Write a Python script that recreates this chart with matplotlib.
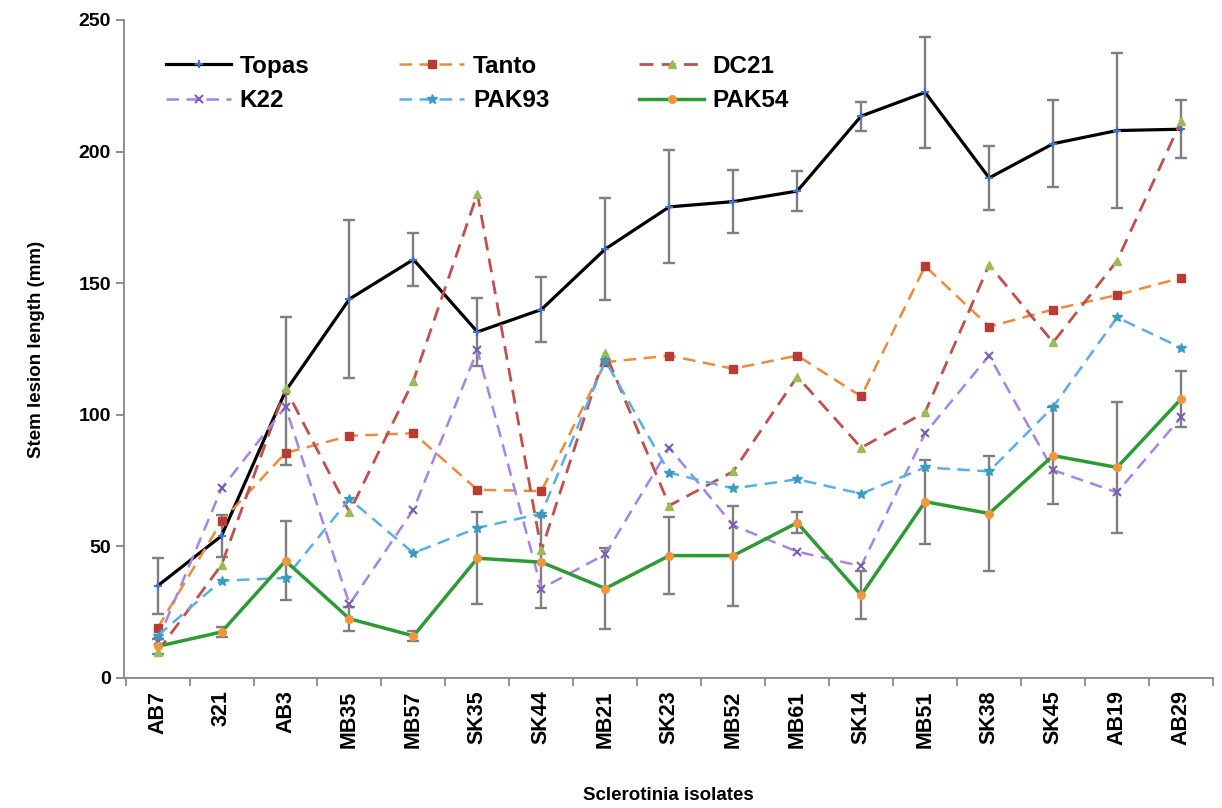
'''
stem lesion length of sclerotinia isolates on six hosts
'''

import matplotlib
matplotlib.use('Agg')
import matplotlib.pyplot as plt

plt.rcParams['font.family'] = ['Liberation Sans', 'DejaVu Sans']
plt.rcParams['font.weight'] = 'bold'

ISOLATES = ['AB7', '321', 'AB3', 'MB35', 'MB57', 'SK35', 'SK44', 'MB21', 'SK23',
            'MB52', 'MB61', 'SK14', 'MB51', 'SK38', 'SK45', 'AB19', 'AB29']

TOPAS = [35, 54, 109, 144, 159, 131.5, 140, 163, 179, 181, 185, 213.5, 222.5,
         190, 203, 208, 208.5]
TOPAS_ERR = [10.5, 8, 28, 30, 10, 13, 12.5, 19.5, 21.5, 12, 7.5, 5.5, 21, 12,
             16.5, 29.5, 11]
TANTO = [19, 59.5, 85.5, 92, 93, 71.5, 71, 120, 122.5, 117.5, 122.5, 107, 156.5,
         133.5, 140, 145.5, 152]
DC21 = [10, 43, 110, 63, 113, 184, 48.5, 123.5, 65.5, 78.5, 114.5, 87.5, 101,
        157, 127.5, 158.5, 211.5]
K22 = [14, 72, 103, 28, 64, 124.5, 34, 47, 87.5, 58, 48, 42.5, 93, 122.5, 79,
       70.5, 99]
PAK93 = [16, 37, 38, 68, 47.5, 57, 62.5, 120.5, 78, 72, 75.5, 70, 80, 78.5, 103,
         137, 125.5]
PAK54 = [12, 17.5, 44.5, 22.5, 16, 45.5, 44, 34, 46.5, 46.5, 59, 31.5, 67, 62.5,
         84.5, 80, 106]
PAK54_ERR = [3, 2, 15, 4.5, 2, 17.5, 17.5, 15.5, 14.5, 19, 4, 9, 16, 22, 18.5,
             25, 10.5]

x = list(range(len(ISOLATES)))

fig = plt.figure(figsize=(12.22, 8.08), dpi=100)
ax = fig.add_axes([124 / 1222, 1 - 678 / 808, (1213 - 124) / 1222, 658 / 808])

# error bars first so the lines sit on top
err_style = dict(fmt='none', ecolor='#7f7f7f', elinewidth=1.7, capsize=4.5,
                 capthick=1.7, zorder=1)
ax.errorbar(x, TOPAS, yerr=TOPAS_ERR, **err_style)
ax.errorbar(x, PAK54, yerr=PAK54_ERR, **err_style)

dash = (5, 3)
h_topas, = ax.plot(x, TOPAS, color='black', lw=2.3, marker='+', ms=6,
                   mec='#4472C4', mew=1.5, label='Topas', zorder=3)
h_tanto, = ax.plot(x, TANTO, color='#EE8A3A', lw=1.8, dashes=dash, marker='s',
                   ms=5.5, mfc='#B83C33', mec='#B83C33', label='Tanto', zorder=3)
h_dc21, = ax.plot(x, DC21, color='#C0504D', lw=2.0, dashes=dash, marker='^',
                  ms=5.5, mfc='#9BBB59', mec='#9BBB59', label='DC21', zorder=3)
h_k22, = ax.plot(x, K22, color='#A584E4', lw=1.8, dashes=dash, marker='x',
                 ms=5.5, mec='#7B5FB0', mew=1.5, label='K22', zorder=3)
h_pak93, = ax.plot(x, PAK93, color='#5BAEE6', lw=1.8, dashes=dash, marker='*',
                   ms=7, mfc='#3A9CC0', mec='#3A9CC0', label='PAK93', zorder=3)
h_pak54, = ax.plot(x, PAK54, color='#2E9A34', lw=2.5, marker='o', ms=5.5,
                   mfc='#F0963C', mec='#F0963C', label='PAK54', zorder=3)

# axis ranges
ax.set_ylim(0, 250)
ax.set_xlim(-0.525, 16.29)
ax.set_yticks([0, 50, 100, 150, 200, 250])
ax.set_xticks(x)
ax.set_xticklabels(ISOLATES, rotation=90, fontsize=15.5, fontweight='bold')
ax.set_xticks([i + 0.5 for i in range(-1, len(ISOLATES))], minor=True)
ax.tick_params(axis='x', which='major', length=0, pad=9)
ax.tick_params(axis='x', which='minor', length=6, width=1.3, color='#868686')
ax.tick_params(axis='y', length=6, width=1.3, color='#868686', labelsize=14)
for lab in ax.get_yticklabels():
    lab.set_fontweight('bold')

for side in ['top', 'right']:
    ax.spines[side].set_visible(False)
for side in ['left', 'bottom']:
    ax.spines[side].set_color('#868686')
    ax.spines[side].set_linewidth(1.3)

ax.set_ylabel('Stem lesion length (mm)', fontsize=13.5, fontweight='bold',
              labelpad=24)
ax.set_xlabel('Sclerotinia isolates', fontsize=13.5, fontweight='bold',
              labelpad=28)

# legend laid out row by row like the original
handles = [h_topas, h_k22, h_tanto, h_pak93, h_dc21, h_pak54]
ax.legend(handles=handles, labels=[h.get_label() for h in handles], ncol=3,
          loc='upper left', bbox_to_anchor=(0.03, 0.962), borderaxespad=0,
          frameon=False, prop={'size': 17.5, 'weight': 'bold'},
          handlelength=2.67, columnspacing=3.7, labelspacing=0.48,
          handletextpad=0.35)

plt.savefig('out.png', dpi=100)
